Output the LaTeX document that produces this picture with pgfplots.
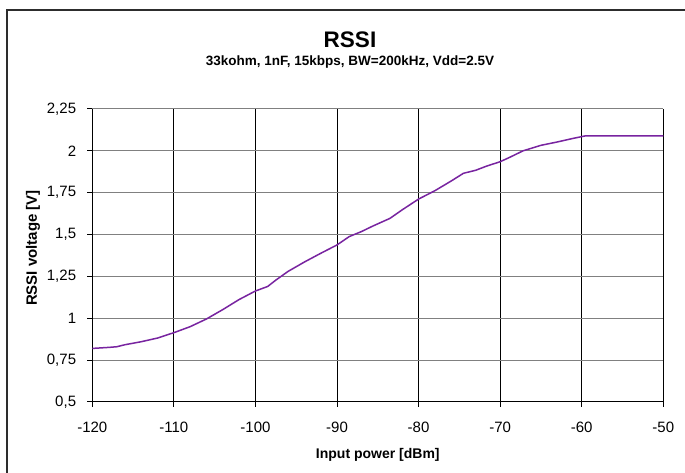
\documentclass[border=0pt]{standalone}
\usepackage{pgfplots}
\pgfplotsset{compat=1.18}
\usepackage{fontspec}
\setmainfont{Liberation Sans}
\definecolor{rssiline}{RGB}{120,36,160}
\definecolor{gridgray}{RGB}{128,128,128}
\definecolor{framecol}{RGB}{45,45,45}
\begin{document}
\begin{tikzpicture}[x=1pt,y=1pt]
\useasboundingbox (0,0) rectangle (685,473);
\fill[white] (0,0) rectangle (685,473);
\draw[framecol, line width=2pt] (7,-10) -- (7,463) -- (700,463);
\node at (350,433) {\bfseries\fontsize{22.5}{25}\selectfont RSSI};
\node at (350,411) {\bfseries\fontsize{13.5}{15}\selectfont 33kohm, 1nF, 15kbps, BW=200kHz, Vdd=2.5V};
\node[rotate=90] at (33,225) {\bfseries\fontsize{15}{17}\selectfont RSSI voltage [V]};
\node at (377.8,18) {\bfseries\fontsize{14}{16}\selectfont Input power [dBm]};
\begin{axis}[
  at={(92.3pt,71pt)}, anchor=south west,
  scale only axis, width=571pt, height=293pt,
  xmin=-120, xmax=-50, ymin=0.5, ymax=2.25,
  xtick={-120,-110,...,-50},
  ytick={0.5,0.75,1,1.25,1.5,1.75,2,2.25},
  axis x line*=bottom, axis y line*=left,
  axis line style={black, line width=1pt, -},
  grid=major,
  x grid style={black, line width=1pt},
  y grid style={gridgray, line width=1pt},
  tick align=outside, major tick length=5pt,
  tick style={black, line width=1pt},
  /pgf/number format/assume math mode=true,
  /pgf/number format/use comma,
  /pgf/number format/1000 sep={},
  ticklabel style={font=\fontsize{15}{17}\selectfont},
  yticklabel style={anchor=east, inner sep=0pt, xshift=-11pt},
  xticklabel style={anchor=north, inner sep=0pt, yshift=-15pt},
  clip=false,
]
\addplot[rssiline, line width=1.5pt, line join=round] coordinates {
(-120,0.820) (-118,0.826) (-117,0.830) (-116,0.842) (-114,0.860)
(-112,0.882) (-110,0.914) (-108,0.950) (-106,0.996) (-104,1.052)
(-102,1.112) (-100,1.163) (-98.5,1.190) (-97.5,1.228) (-96,1.280)
(-94,1.336) (-92,1.388) (-90,1.438) (-88.5,1.488) (-87,1.518)
(-85.6,1.551) (-83.5,1.597) (-82,1.648) (-80,1.712) (-78,1.762)
(-76,1.820) (-74.5,1.866) (-73,1.884) (-71.6,1.910) (-70,1.935)
(-68.8,1.962) (-67.2,2.000) (-65,2.033) (-63,2.053) (-61,2.075)
(-59.6,2.089) (-50,2.089)
};
\end{axis}
\end{tikzpicture}
\end{document}
